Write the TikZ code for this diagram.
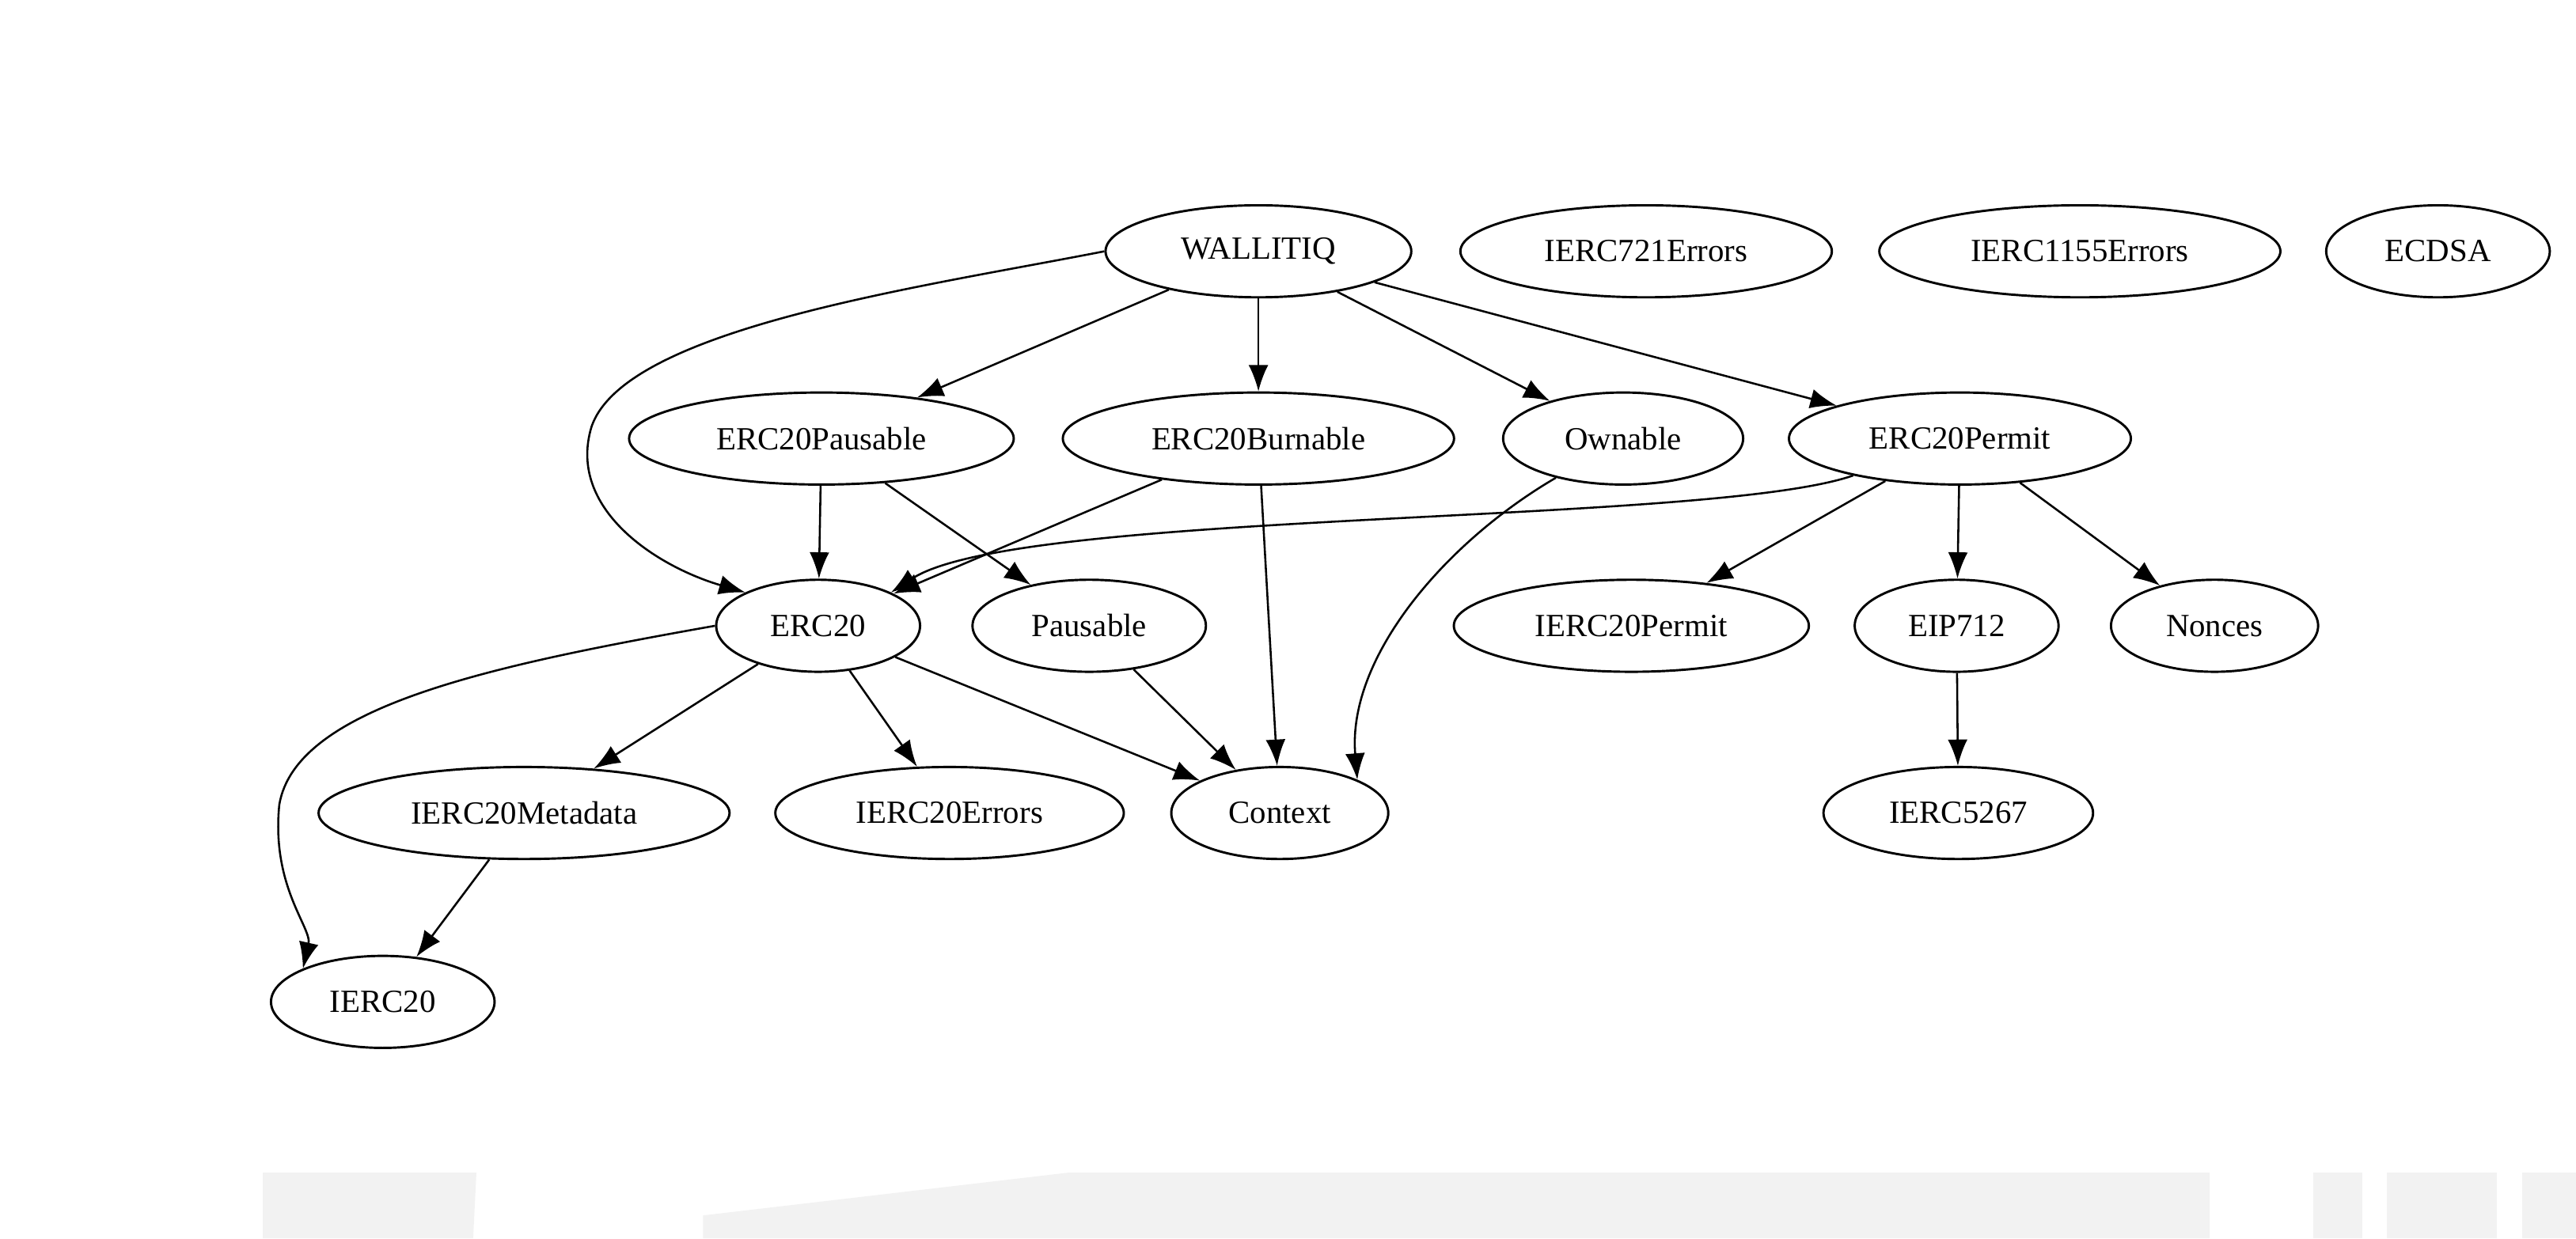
\documentclass[tikz,border=0pt]{standalone}
\usepackage{fontspec}
\setmainfont{Liberation Serif}
\usetikzlibrary{shapes.geometric,arrows.meta}
\tikzset{
  nd/.style={draw,ellipse,inner sep=0pt,minimum height=0.56cm,font=\fontsize{5.6}{6}\selectfont},
  ed/.style={-{Latex[length=1.6mm,width=1.2mm]},line width=0.35pt},
}
\begin{document}
\begin{tikzpicture}[x=0.01cm,y=-0.01cm]
            \useasboundingbox (0,0) rectangle (1568,754);
            \fill[black!5] (160,714) -- (290,714) -- (288,754) -- (160,754) -- cycle;
            \fill[black!5] (428,740) -- (650,714) -- (1345,714) -- (1345,754) -- (428,754) -- cycle;
            \fill[black!5] (1408,714) rectangle (1438,754);
            \fill[black!5] (1453,714) rectangle (1520,754);
            \fill[black!5] (1535,714) rectangle (1568,754);

            \node[nd,minimum width=1.86cm] (W) at (766,153) {WALLITIQ};
            \node[nd,minimum width=2.26cm] (E721) at (1002,153) {IERC721Errors};
            \node[nd,minimum width=2.44cm] (E1155) at (1266,153) {IERC1155Errors};
            \node[nd,minimum width=1.36cm] (ECDSA) at (1484,153) {ECDSA};

            \node[nd,minimum width=2.34cm] (Paus) at (500,267) {ERC20Pausable};
            \node[nd,minimum width=2.38cm] (Burn) at (766,267) {ERC20Burnable};
            \node[nd,minimum width=1.46cm] (Own) at (988,267) {Ownable};
            \node[nd,minimum width=2.08cm] (Perm) at (1193,267) {ERC20Permit};

            \node[nd,minimum width=1.24cm] (ERC) at (498,381) {ERC20};
            \node[nd,minimum width=1.42cm] (Pb) at (663,381) {Pausable};
            \node[nd,minimum width=2.16cm] (IPerm) at (993,381) {IERC20Permit};
            \node[nd,minimum width=1.24cm] (EIP) at (1191,381) {EIP712};
            \node[nd,minimum width=1.26cm] (Non) at (1348,381) {Nonces};

            \node[nd,minimum width=2.50cm] (Meta) at (319,495) {IERC20Metadata};
            \node[nd,minimum width=2.12cm] (Err) at (578,495) {IERC20Errors};
            \node[nd,minimum width=1.32cm] (Ctx) at (779,495) {Context};
            \node[nd,minimum width=1.64cm] (I5267) at (1192,495) {IERC5267};

            \node[nd,minimum width=1.36cm] (I20) at (233,610) {IERC20};

            % edges
            \draw[ed] (W.west) .. controls (560,175) and (380,200) .. (360,260) .. controls (345,310) and (400,345) .. (ERC.north west);
            \draw[ed] (W) -- (Paus);
            \draw[ed] (W) -- (Burn);
            \draw[ed] (W) -- (Own);
            \draw[ed] (W) -- (Perm);
            \draw[ed] (Paus) -- (ERC);
            \draw[ed] (Paus) -- (Pb);
            \draw[ed] (Burn) -- (ERC);
            \draw[ed] (Burn) -- (Ctx);
            \draw[ed] (Own) .. controls (880,330) and (820,400) .. (Ctx.north east);
            \draw[ed] (Perm) .. controls (1040,320) and (620,310) .. (ERC.north east);
            \draw[ed] (Perm) -- (IPerm);
            \draw[ed] (Perm) -- (EIP);
            \draw[ed] (Perm) -- (Non);
            \draw[ed] (EIP) -- (I5267);
            \draw[ed] (ERC.west) .. controls (300,405) and (180,430) .. (170,490) .. controls (165,540) and (190,565) .. (I20.north west);
            \draw[ed] (ERC) -- (Meta);
            \draw[ed] (ERC) -- (Err);
            \draw[ed] (ERC) -- (Ctx);
            \draw[ed] (Pb) -- (Ctx);
            \draw[ed] (Meta) -- (I20);
          \end{tikzpicture}
\end{document}
